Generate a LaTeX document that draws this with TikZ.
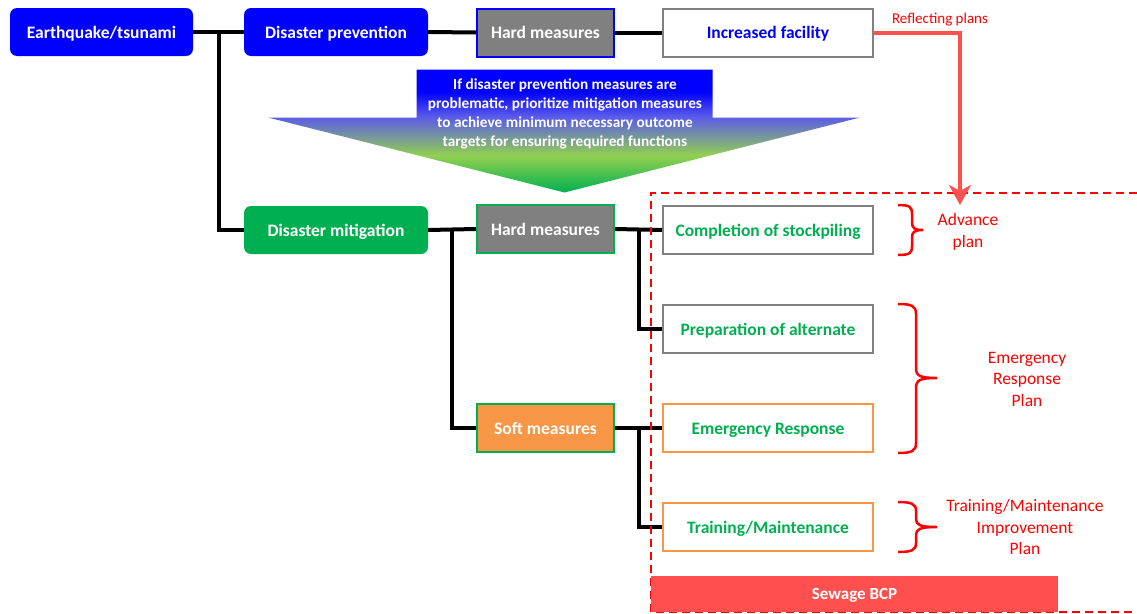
\documentclass[tikz,border=0pt]{standalone}
\usepackage{fontspec}
\setmainfont{Carlito}
\usetikzlibrary{arrows.meta,calc}
\definecolor{bblue}{RGB}{0,0,255}
\definecolor{bgreen}{RGB}{0,176,80}
\definecolor{lgreen}{RGB}{146,208,80}
\definecolor{midb}{RGB}{90,90,235}
\definecolor{borange}{RGB}{247,150,70}
\definecolor{bgray}{RGB}{128,128,128}
\definecolor{lred}{RGB}{255,80,80}
\pgfdeclareverticalshading{arrowshade}{100bp}{color(0bp)=(bgreen); color(25bp)=(bgreen); color(40bp)=(lgreen); color(56bp)=(midb); color(66bp)=(bblue); color(100bp)=(bblue)}
\begin{document}
\begin{tikzpicture}[x=1pt,y=-1pt,
  box/.style={minimum height=48pt, inner sep=2pt, text height=15pt, text depth=3pt,
    font=\fontsize{17.5}{20}\selectfont\bfseries},
  rbox/.style={box, rounded corners=7pt, fill=#1, text=white},
  sq/.style={box, draw=#1, line width=2pt},
  conn/.style={line width=4pt, black},
  brc/.style={red, line width=2.5pt},
  brtext/.style={red, align=center, font=\fontsize{17.5}{21.5}\selectfont},
  dashbox/.style={red, line width=2pt, dash pattern=on 8pt off 5pt}]
\useasboundingbox (0,0) rectangle (1137,613);

% big gradient arrow
\shade[shading=arrowshade] (416.5,69.5) -- (712.5,69.5) -- (712.5,117.5) -- (860,117.5) -- (564.5,192.5) -- (268,117.5) -- (416.5,117.5) -- cycle;
\node[text=white, align=center, font=\fontsize{15.3}{19}\selectfont\bfseries] (note) at (565,114)
  {If disaster prevention measures are\\problematic, prioritize mitigation measures\\to achieve minimum necessary outcome\\targets for ensuring required functions};

% nodes
\node[rbox=bblue, minimum width=183pt] (eq) at (101.5,32) {Earthquake/tsunami};
\node[rbox=bblue, minimum width=184pt] (dp) at (336,32) {Disaster prevention};
\node[sq=bblue, fill=bgray, text=white, minimum width=137pt] (hm1) at (545.5,32.5) {Hard measures};
\node[sq=bgray, fill=white, text=bblue, minimum width=210pt] (inc) at (768,32.5) {Increased facility};
\node[rbox=bgreen, minimum width=184pt] (dm) at (336,230) {Disaster mitigation};
\node[sq=bgreen, fill=bgray, text=white, minimum width=137pt] (hm2) at (545.5,229) {Hard measures};
\node[sq=bgreen, fill=borange, text=white, minimum width=137pt] (sm) at (545.5,428) {Soft measures};
\node[sq=bgray, text=bgreen, minimum width=210pt] (cs) at (768,230) {Completion of stockpiling};
\node[sq=bgray, text=bgreen, minimum width=210pt] (pa) at (768,329) {Preparation of alternate};
\node[sq=borange, text=bgreen, minimum width=210pt] (er) at (768,428) {Emergency Response};
\node[sq=borange, text=bgreen, minimum width=210pt] (tm) at (768,527) {Training/Maintenance};

% connectors
\draw[conn] (eq.east) -- (dp.west);
\draw[conn] ($(eq.east)!0.5!(dp.west)$) |- (dm.west);
\draw[conn] (dp.east) -- (hm1.west);
\draw[conn] (hm1.east) -- (inc.west);
\draw[conn] (dm.east) -- (hm2.west);
\draw[conn] ($(dm.east)!0.5!(hm2.west)$) |- (sm.west);
\draw[conn] (hm2.east) -- (cs.west);
\draw[conn] ($(hm2.east)!0.5!(cs.west)$) |- (pa.west);
\draw[conn] (sm.east) -- (er.west);
\draw[conn] ($(sm.east)!0.5!(er.west)$) |- (tm.west);

% dashed BCP frame
\draw[dashbox] (1137,193) -- (651,193) -- (651,612) -- (1137,612);
\node[fill=lred, text=white, minimum width=407pt, minimum height=36pt, inner sep=0pt,
  text height=13pt, text depth=3pt,
  font=\fontsize{17}{19}\selectfont\bfseries] (bcp) at (854.5,594) {Sewage BCP};

% reflecting arrow
\coordinate (arrowend) at (960,205);
\draw[lred, line width=4pt, -{Stealth[length=20pt,width=22pt,inset=6pt]}] (inc.east) -| (arrowend);
\node[red, font=\fontsize{15}{17}\selectfont] (rp) at (940,20) {Reflecting plans};

% braces
\draw[brc] (898,205) .. controls (910,205) and (912,207) .. (912,214) -- (912,222)
  .. controls (912,228) and (914,230) .. (923,230) .. controls (914,230) and (912,232) .. (912,238)
  -- (912,246) .. controls (912,253) and (910,255) .. (898,255);
\draw[brc] (898,304) .. controls (912,304) and (916,306) .. (916,314) -- (916,368)
  .. controls (916,376) and (920,378) .. (937,378) .. controls (920,378) and (916,380) .. (916,388)
  -- (916,443) .. controls (916,451) and (912,453) .. (898,453);
\draw[brc] (898,502) .. controls (912,502) and (916,504) .. (916,511) -- (916,519)
  .. controls (916,525) and (920,527) .. (937,527) .. controls (920,527) and (916,529) .. (916,535)
  -- (916,543) .. controls (916,550) and (912,552) .. (898,552);

\node[brtext] (adv) at (968,232) {Advance\\plan};
\node[brtext] (erp) at (1027,379) {Emergency\\Response\\Plan};
\node[brtext] (tmp) at (1025,527) {Training/Maintenance\\Improvement\\Plan};
\end{tikzpicture}
\end{document}
